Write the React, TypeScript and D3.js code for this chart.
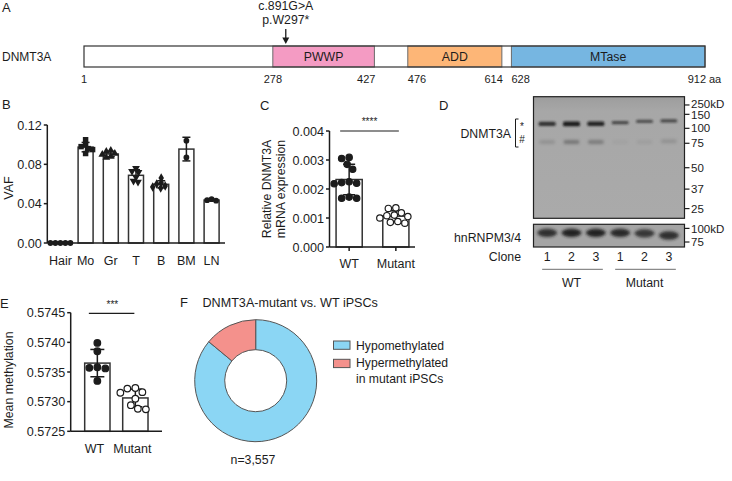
import React from 'react';
import * as d3 from 'd3';

const FONT = "'Liberation Sans', Arial, Helvetica, sans-serif";
const INK = '#1c1c1c';

// ---------- Panel A: protein domains ----------
const proteinLength = 912;
const domainNames = ['PWWP', 'ADD', 'MTase'];
const domainStarts = [278, 476, 628];
const domainEnds = [427, 614, 912];
const domainColors = ['#f49bc3', '#fdb677', '#76b6e1'];
const positionTicks = [1, 278, 427, 476, 614, 628, 912];
const positionAnchors = ['middle', 'middle', 'end', 'start', 'end', 'start', 'end'];
const mutationPos = 297;
const mutationLabels = ['c.891G>A', 'p.W297*'];

// ---------- Panel B: VAF ----------
const tissues = ['Hair', 'Mo', 'Gr', 'T', 'B', 'BM', 'LN'];
const vafHair = [0, 0, 0, 0, 0];
const vafMo = [0.105, 0.1, 0.098, 0.096, 0.095, 0.091];
const vafGr = [0.094, 0.093, 0.091, 0.09, 0.088, 0.087];
const vafT = [0.076, 0.073, 0.072, 0.067, 0.063, 0.062];
const vafB = [0.066, 0.061, 0.06, 0.058, 0.057, 0.056];
const vafBM = [0.104, 0.087];
const vafLN = [0.0445, 0.0435, 0.043];
const vafSeries = [vafHair, vafMo, vafGr, vafT, vafB, vafBM, vafLN];
const vafSymbols = ['circle', 'square', 'triangle', 'triangleDown', 'diamond', 'circle', 'circle'];
const vafTicks = [0, 0.04, 0.08, 0.12];

// ---------- Panel C: mRNA expression ----------
const exprGroups = ['WT', 'Mutant'];
const exprWT = [0.00309, 0.00305, 0.00285, 0.00268, 0.00225, 0.00222, 0.0022, 0.00218, 0.00172, 0.00168, 0.00168];
const exprMut = [0.00135, 0.00133, 0.00118, 0.0011, 0.00108, 0.00105, 0.001, 0.00088, 0.00085, 0.00082];
const exprTicks = [0, 0.001, 0.002, 0.003, 0.004];
const exprSig = '****';

// ---------- Panel D: western blot ----------
const laneLabels = ['1', '2', '3', '1', '2', '3'];
const laneGroups = ['WT', 'WT', 'WT', 'Mutant', 'Mutant', 'Mutant'];
const markerKDa = [250, 150, 100, 75, 50, 37, 25];
const markerRf = [0.068, 0.145, 0.26, 0.383, 0.584, 0.76, 0.92];
const loadingMarkerKDa = [100, 75];
const loadingMarkerRf = [0.18, 0.78];
const starBandKDa = [114, 114, 114, 118, 122, 124];
const starBandIntensity = [0.8, 0.95, 0.9, 0.65, 0.6, 0.62];
const starBandThickness = [4.2, 4.8, 4.5, 3.2, 3.2, 3.2];
const hashBandKDa = [77, 77, 77, 77, 77, 78];
const hashBandIntensity = [0.18, 0.42, 0.38, 0.05, 0.08, 0.18];
const loadingBandKDa = [91, 91, 91, 91, 90, 86];
const loadingBandIntensity = [0.85, 0.95, 0.95, 0.9, 0.8, 0.85];

// ---------- Panel E: mean methylation ----------
const methGroups = ['WT', 'Mutant'];
const methWT = [0.57399, 0.57385, 0.57358, 0.57357, 0.57356, 0.57335];
const methMut = [0.57323, 0.57322, 0.57316, 0.57315, 0.57305, 0.57294, 0.57288, 0.57287];
const methTicks = [0.5725, 0.573, 0.5735, 0.574, 0.5745];
const methSig = '***';

// ---------- Panel F: donut ----------
const donutLabels = ['Hypomethylated', 'Hypermethylated in mutant iPSCs'];
const donutValues = [3060, 497];
const donutColors = ['#8bd6f4', '#f4918c'];
const donutTotalLabel = 'n=3,557';

// ---------- helpers ----------
function beeswarm(vals: number[], ys: (v: number) => number, minDist: number): number[] {
  const placed: [number, number][] = [];
  return vals.map((v) => {
    const yy = ys(v);
    let off = 0;
    for (let k = 0; k < 600; k++) {
      const c = (k % 2 === 1 ? -1 : 1) * Math.ceil(k / 2) * 0.5;
      if (placed.every(([px, py]) => Math.hypot(px - c, py - yy) >= minDist)) {
        off = c;
        break;
      }
    }
    placed.push([off, yy]);
    return off;
  });
}

const T = (p: any) => (
  <text fontFamily={FONT} fill={INK} fontSize={12} {...p}>
    {p.children}
  </text>
);

function symbolPath(kind: string, size: number) {
  const map: any = {
    circle: d3.symbolCircle,
    square: d3.symbolSquare,
    triangle: d3.symbolTriangle,
    triangleDown: d3.symbolTriangle,
    diamond: d3.symbolDiamond,
  };
  return d3.symbol().type(map[kind]).size(size)() as string;
}

function ErrorBar({ x, y0, y1, cap }: any) {
  return (
    <g stroke={INK} strokeWidth={1.5}>
      <line x1={x} x2={x} y1={y0} y2={y1} />
      <line x1={x - cap / 2} x2={x + cap / 2} y1={y0} y2={y0} />
      <line x1={x - cap / 2} x2={x + cap / 2} y1={y1} y2={y1} />
    </g>
  );
}

function YAxis({ x, scale, ticks, fmt }: any) {
  return (
    <g>
      <line x1={x} x2={x} y1={scale(ticks[ticks.length - 1])} y2={scale(ticks[0])} stroke={INK} strokeWidth={1.5} />
      {ticks.map((t: number) => (
        <g key={t}>
          <line x1={x - 3.5} x2={x} y1={scale(t)} y2={scale(t)} stroke={INK} strokeWidth={1.5} />
          <T x={x - 5.5} y={scale(t)} dy="0.36em" fontSize={12.6} textAnchor="end">
            {fmt(t)}
          </T>
        </g>
      ))}
    </g>
  );
}

// ---------- Panel A ----------
function PanelA() {
  const x = d3.scaleLinear().domain([1, proteinLength]).range([84, 705]);
  const y0 = 46;
  const h = 21;
  const xm = x(mutationPos);
  return (
    <g>
      <T x={2} y={12} fontSize={13}>A</T>
      <T x={2} y={61}>DNMT3A</T>
      <rect x={x(1)} y={y0} width={x(proteinLength) - x(1)} height={h} fill="#fff" />
      {domainNames.map((n, i) => (
        <g key={n}>
          <rect x={x(domainStarts[i])} y={y0} width={x(domainEnds[i]) - x(domainStarts[i])} height={h} fill={domainColors[i]} stroke="#6a6a6a" strokeWidth={1} />
          <T x={(x(domainStarts[i]) + x(domainEnds[i])) / 2} y={y0 + h / 2} dy="0.36em" fontSize={12.3} textAnchor="middle">
            {n}
          </T>
        </g>
      ))}
      <rect x={x(1)} y={y0} width={x(proteinLength) - x(1)} height={h} fill="none" stroke="#333" strokeWidth={1.2} />
      {positionTicks.map((p, i) => (
        <T key={p} x={x(p) + (positionAnchors[i] === 'end' ? 1 : 0)} y={83} fontSize={11} textAnchor={positionAnchors[i]}>
          {p}
        </T>
      ))}
      <T x={x(proteinLength) + 4} y={83} fontSize={11}>aa</T>
      <T x={xm} y={9.5} fontSize={12.3} textAnchor="middle">{mutationLabels[0]}</T>
      <T x={xm} y={23.5} fontSize={12.3} textAnchor="middle">{mutationLabels[1]}</T>
      <line x1={xm} x2={xm} y1={29} y2={39} stroke={INK} strokeWidth={1.3} />
      <path d={`M${xm - 3.5},${37.5} L${xm + 3.5},${37.5} L${xm},${44} Z`} fill={INK} />
    </g>
  );
}

// ---------- Panel B ----------
function PanelB() {
  const y = d3.scaleLinear().domain([0, 0.12]).range([243, 125]);
  const x = d3.scaleBand().domain(tissues).range([47, 225]).paddingInner(0.405).paddingOuter(0.234);
  const bw = x.bandwidth();
  return (
    <g>
      <T x={2} y={109} fontSize={13}>B</T>
      <T transform={`translate(12.5,188) rotate(-90)`} fontSize={12.5} textAnchor="middle">VAF</T>
      {tissues.map((t, i) => {
        const vals = vafSeries[i];
        const m = d3.mean(vals) as number;
        const sd = vals.length > 1 ? (d3.deviation(vals) as number) : 0;
        const cx = (x(t) as number) + bw / 2;
        const offs = beeswarm(vals, y, 4.6);
        return (
          <g key={t}>
            {m > 0 && <rect x={x(t)} y={y(m)} width={bw} height={y(0) - y(m)} fill="#fff" stroke="#333" strokeWidth={1.5} />}
            {vals.map((v, j) => (
              <path key={j} d={symbolPath(vafSymbols[i], vafSymbols[i] === 'square' ? 30 : 26)} transform={`translate(${cx + offs[j]},${y(v)})${vafSymbols[i] === 'triangleDown' ? ' rotate(180)' : ''}`} fill={INK} />
            ))}
            {sd > 0 && <ErrorBar x={cx} y0={y(m + sd)} y1={y(m - sd)} cap={8} />}
            <T x={cx} y={265} fontSize={12.5} textAnchor="middle">{t}</T>
          </g>
        );
      })}
      <YAxis x={47.3} scale={y} ticks={vafTicks} fmt={d3.format('.2f')} />
      <line x1={47.3} x2={225} y1={y(0)} y2={y(0)} stroke={INK} strokeWidth={1.5} />
    </g>
  );
}

// ---------- Panel C ----------
function PanelC() {
  const y = d3.scaleLinear().domain([0, 0.004]).range([247, 131]);
  const x = d3.scaleBand().domain(exprGroups).range([330, 415]).paddingInner(0.44).paddingOuter(0.13);
  const bw = x.bandwidth();
  const series = [exprWT, exprMut];
  const cxs = exprGroups.map((g) => (x(g) as number) + bw / 2);
  return (
    <g>
      <T x={260} y={110} fontSize={13}>C</T>
      <T transform={`translate(271,189) rotate(-90)`} fontSize={12.3} textAnchor="middle">Relative DNMT3A</T>
      <T transform={`translate(284.5,189) rotate(-90)`} fontSize={12.3} textAnchor="middle">mRNA expression</T>
      {exprGroups.map((g, i) => {
        const vals = series[i];
        const m = d3.mean(vals) as number;
        const sd = d3.deviation(vals) as number;
        const cx = cxs[i];
        const offs = beeswarm(vals, y, 7.2);
        return (
          <g key={g}>
            <rect x={x(g)} y={y(m)} width={bw} height={y(0) - y(m)} fill="#fff" stroke="#333" strokeWidth={1.5} />
            <ErrorBar x={cx} y0={y(m + sd)} y1={y(m - sd)} cap={12} />
            {vals.map((v, j) => (
              <circle key={j} cx={cx + offs[j]} cy={y(v)} r={3.2} fill={i === 0 ? INK : '#fff'} stroke={INK} strokeWidth={1.2} />
            ))}
            <line x1={cx} x2={cx} y1={y(0)} y2={y(0) + 4} stroke={INK} strokeWidth={1.5} />
            <T x={cx} y={268} fontSize={12.5} textAnchor="middle">{g}</T>
          </g>
        );
      })}
      <YAxis x={329.5} scale={y} ticks={exprTicks} fmt={d3.format('.3f')} />
      <line x1={329.5} x2={415} y1={y(0)} y2={y(0)} stroke={INK} strokeWidth={1.5} />
      <line x1={cxs[0] - 9} x2={cxs[1] + 3} y1={131} y2={131} stroke={INK} strokeWidth={1.2} />
      <T x={(cxs[0] + cxs[1]) / 2 - 3} y={124.5} fontSize={10} textAnchor="middle">{exprSig}</T>
    </g>
  );
}

// ---------- Panel D ----------
function PanelD() {
  const bx0 = 533.5;
  const bx1 = 684.5;
  const top = 96.7;
  const bot = 218.3;
  const ltop = 224.3;
  const lbot = 247;
  const yk = d3.scaleLog().domain(markerKDa).range(markerRf.map((f) => top + f * (bot - top)));
  const yl = d3.scaleLog().domain(loadingMarkerKDa).range(loadingMarkerRf.map((f) => ltop + f * (lbot - ltop)));
  const lane = d3.scaleBand<number>().domain(d3.range(laneLabels.length)).range([535, 681]);
  const lc = (i: number) => (lane(i) as number) + lane.bandwidth() / 2;
  const groups = Array.from(new Set(laneGroups));
  return (
    <g>
      <defs>
        <filter id="blur1" x="-50%" y="-150%" width="200%" height="400%">
          <feGaussianBlur stdDeviation="1.0" />
        </filter>
        <filter id="blur2" x="-50%" y="-150%" width="200%" height="400%">
          <feGaussianBlur stdDeviation="1.6" />
        </filter>
        <filter id="blur3" x="-50%" y="-100%" width="200%" height="300%">
          <feGaussianBlur stdDeviation="1.4" />
        </filter>
        <linearGradient id="blotg" x1="0" x2="0" y1="0" y2="1">
          <stop offset="0" stopColor="#9d9d9d" />
          <stop offset="0.12" stopColor="#a7a7a7" />
          <stop offset="1" stopColor="#aaaaaa" />
        </linearGradient>
      </defs>
      <T x={439} y={110} fontSize={13}>D</T>
      <rect x={bx0} y={top} width={bx1 - bx0} height={bot - top} fill="url(#blotg)" stroke="#222" strokeWidth={1.2} />
      <rect x={bx0} y={ltop} width={bx1 - bx0} height={lbot - ltop} fill="#a5a5a5" stroke="#222" strokeWidth={1.2} />
      {laneLabels.map((_, i) => (
        <g key={i}>
          <rect x={lc(i) - 8.5} y={yk(starBandKDa[i]) - starBandThickness[i] / 2} width={17} height={starBandThickness[i]} rx={1.5} fill="#151515" opacity={starBandIntensity[i]} filter="url(#blur1)" />
          <rect x={lc(i) - 8} y={yk(hashBandKDa[i]) - 2} width={16} height={4} rx={2} fill="#333" opacity={hashBandIntensity[i]} filter="url(#blur2)" />
          <ellipse cx={lc(i)} cy={yl(loadingBandKDa[i])} rx={10} ry={4.2} fill="#1a1a1a" opacity={loadingBandIntensity[i]} filter="url(#blur3)" />
        </g>
      ))}
      {markerKDa.map((k, i) => (
        <g key={k}>
          <line x1={bx1} x2={bx1 + 5} y1={yk(k)} y2={yk(k)} stroke={INK} strokeWidth={1.2} />
          <T x={bx1 + 6.5} y={yk(k) + (i === 0 ? -1 : i === 1 ? 1 : 0)} dy="0.36em" fontSize={11.5}>{i === 0 ? `${k}kD` : k}</T>
        </g>
      ))}
      {loadingMarkerKDa.map((k, i) => (
        <g key={k}>
          <line x1={bx1} x2={bx1 + 5} y1={yl(k)} y2={yl(k)} stroke={INK} strokeWidth={1.2} />
          <T x={bx1 + 6.5} y={yl(k)} dy="0.36em" fontSize={11.5}>{i === 0 ? `${k}kD` : k}</T>
        </g>
      ))}
      <T x={511} y={133.5} dy="0.36em" fontSize={12.3} textAnchor="end">DNMT3A</T>
      <path d={`M${518.5},${119} H${515.5} V${147} H${518.5}`} fill="none" stroke={INK} strokeWidth={1} />
      <T x={522} y={130} fontSize={10} textAnchor="middle">*</T>
      <T x={522} y={139.5} dy="0.36em" fontSize={10} textAnchor="middle">#</T>
      <T x={521} y={237.5} dy="0.36em" fontSize={12.3} textAnchor="end">hnRNPM3/4</T>
      <T x={521} y={257} dy="0.36em" fontSize={12.3} textAnchor="end">Clone</T>
      {laneLabels.map((l, i) => (
        <T key={i} x={lc(i)} y={257} dy="0.36em" fontSize={12.3} textAnchor="middle">{l}</T>
      ))}
      {groups.map((g) => {
        const idx = laneGroups.map((lg, i) => (lg === g ? i : -1)).filter((i) => i >= 0);
        const x1 = lc(idx[0]) - 5;
        const x2 = lc(idx[idx.length - 1]) + 7;
        return (
          <g key={g}>
            <line x1={x1} x2={x2} y1={269.3} y2={269.3} stroke="#8a8a8a" strokeWidth={1.2} />
            <T x={(lc(idx[0]) + lc(idx[idx.length - 1])) / 2} y={283} dy="0.36em" fontSize={12.3} textAnchor="middle">{g}</T>
          </g>
        );
      })}
    </g>
  );
}

// ---------- Panel E ----------
function PanelE() {
  const y = d3.scaleLinear().domain([0.5725, 0.5745]).range([431.3, 312.7]);
  const x = d3.scaleBand().domain(methGroups).range([70.7, 162]).paddingInner(0.334).paddingOuter(0.368);
  const bw = x.bandwidth();
  const series = [methWT, methMut];
  const cxs = methGroups.map((g) => (x(g) as number) + bw / 2);
  return (
    <g>
      <T x={0} y={308} fontSize={13}>E</T>
      <T transform={`translate(12.5,380) rotate(-90)`} fontSize={12.3} textAnchor="middle">Mean methylation</T>
      {methGroups.map((g, i) => {
        const vals = series[i];
        const m = d3.mean(vals) as number;
        const sd = d3.deviation(vals) as number;
        const cx = cxs[i];
        const offs = beeswarm(vals, y, 7.8);
        return (
          <g key={g}>
            <rect x={x(g)} y={y(m)} width={bw} height={y(0.5725) - y(m)} fill="#fff" stroke="#333" strokeWidth={1.5} />
            <ErrorBar x={cx} y0={y(m + sd)} y1={y(m - sd)} cap={14} />
            {vals.map((v, j) => (
              <circle key={j} cx={cx + offs[j]} cy={y(v)} r={3.3} fill={i === 0 ? INK : '#fff'} stroke={INK} strokeWidth={1.2} />
            ))}
            <T x={cx - 3} y={453} fontSize={12.5} textAnchor="middle">{g}</T>
          </g>
        );
      })}
      <YAxis x={70.7} scale={y} ticks={methTicks} fmt={d3.format('.4f')} />
      <line x1={70.7} x2={162} y1={y(0.5725)} y2={y(0.5725)} stroke={INK} strokeWidth={1.5} />
      <line x1={cxs[0] - 8.5} x2={cxs[1] - 1} y1={313.3} y2={313.3} stroke={INK} strokeWidth={1.2} />
      <T x={(cxs[0] + cxs[1]) / 2 - 4} y={308} fontSize={10} textAnchor="middle">{methSig}</T>
    </g>
  );
}

// ---------- Panel F ----------
function PanelF() {
  const cx = 255.7;
  const cy = 380.7;
  const pie = d3.pie<number>().sort(null).startAngle(0).endAngle(Math.PI * 2);
  const arc = d3.arc<d3.PieArcDatum<number>>().innerRadius(31).outerRadius(61);
  const arcs = pie(donutValues);
  const legendLines = [[donutLabels[0]], ['Hypermethylated', 'in mutant iPSCs']];
  return (
    <g>
      <T x={180} y={307} fontSize={13}>F</T>
      <T x={202.5} y={307} fontSize={12.6}>DNMT3A-mutant vs. WT iPSCs</T>
      <g transform={`translate(${cx},${cy})`}>
        {arcs.map((a, i) => (
          <path key={i} d={arc(a) as string} fill={donutColors[i]} stroke="#555" strokeWidth={1} />
        ))}
      </g>
      {legendLines.map((lines, i) => (
        <g key={i}>
          <rect x={333.5} y={341 + i * 18.3} width={16.5} height={8.3} fill={donutColors[i]} stroke="#555" strokeWidth={1} />
          {lines.map((l, j) => (
            <T key={j} x={356} y={345.2 + i * 17.8 + j * 15.8} dy="0.36em" fontSize={12.2}>{l}</T>
          ))}
        </g>
      ))}
      <T x={253} y={460} dy="0.36em" fontSize={12.3} textAnchor="middle">{donutTotalLabel}</T>
    </g>
  );
}

export default function App() {
  return (
    <svg width={732} height={481} style={{ position: 'absolute', left: 0, top: 0, background: '#fff' }}>
      <rect width={732} height={481} fill="#fff" />
      <PanelA />
      <PanelB />
      <PanelC />
      <PanelD />
      <PanelE />
      <PanelF />
    </svg>
  );
}
